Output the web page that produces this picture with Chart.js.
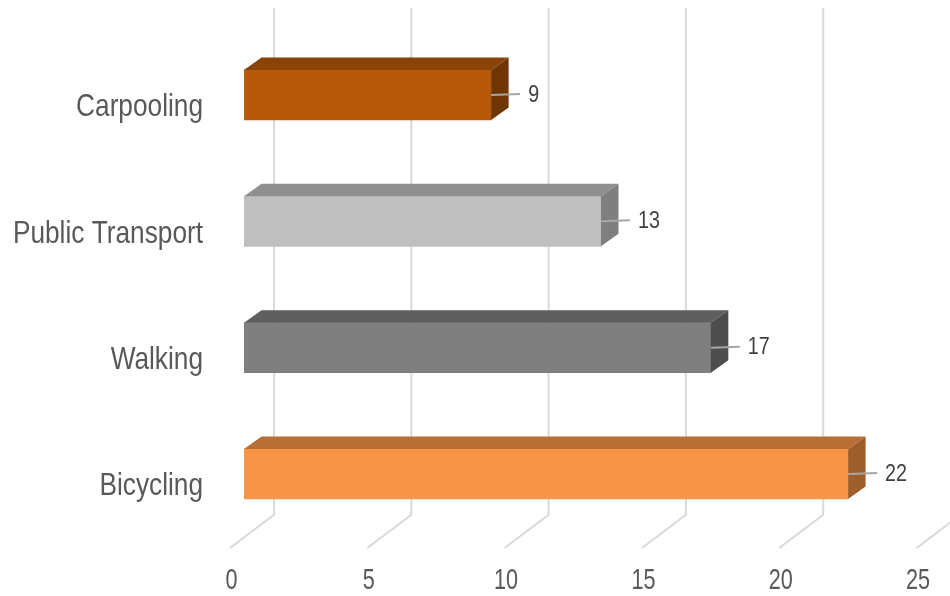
<!DOCTYPE html>
<html><head><meta charset="utf-8">
<script src="https://cdn.jsdelivr.net/npm/chart.js@4/dist/chart.umd.min.js"></script>
<style>html,body{margin:0;padding:0;background:#fff}#wrap{width:950px;height:596px;position:relative}</style>
</head><body><div id="wrap"><canvas id="c" width="950" height="596"></canvas></div>
<script>
const categories = ['Carpooling', 'Public Transport', 'Walking', 'Bicycling'];
const values = [9, 13, 17, 22];
const xTickValues = [0, 5, 10, 15, 20, 25];
const xTickLabels = ['0', '5', '10', '15', '20', '25'];

const frontColors = ['#B7590A', '#BFBFBF', '#7F7F7F', '#F79646'];
const topColors = ['#8A4306', '#8F8F8F', '#5F5F5F', '#B86F35'];
const sideColors = ['#703705', '#7F7F7F', '#4D4D4D', '#9E5F2C'];

const FONT = "'Liberation Sans', Arial, sans-serif";
const BAR_DX = 17.5, BAR_DY = 12.5;
const WALL_DX = 30, WALL_DY = 22.5;
const FLOOR_DX = -14, FLOOR_DY = 10.8;

function narrowText(ctx, text, x, y, size, squeeze, align, color) {
  ctx.save();
  ctx.translate(x, y);
  ctx.scale(squeeze, 1);
  ctx.font = size + 'px ' + FONT;
  ctx.textAlign = align;
  ctx.textBaseline = 'middle';
  ctx.fillStyle = color;
  ctx.fillText(text, 0, 0);
  ctx.restore();
}

const threeD = {
  id: 'threeD',
  beforeDatasetsDraw(chart) {
    const ctx = chart.ctx, xs = chart.scales.x, ys = chart.scales.y, area = chart.chartArea;
    ctx.save();
    ctx.strokeStyle = '#D9D9D9';
    ctx.lineWidth = 2;
    xTickValues.forEach(v => {
      const px = xs.getPixelForValue(v);
      ctx.beginPath();
      ctx.moveTo(px + WALL_DX, 8);
      ctx.lineTo(px + WALL_DX, area.bottom - WALL_DY);
      ctx.lineTo(px + FLOOR_DX, area.bottom + FLOOR_DY);
      ctx.stroke();
    });
    ctx.restore();
    xTickValues.forEach((v, i) => {
      narrowText(ctx, xTickLabels[i], xs.getPixelForValue(v) - 12.5, area.bottom + 44, 30, 0.72, 'center', '#595959');
    });
    categories.forEach((c, i) => {
      narrowText(ctx, c, ys.left + ys.width - 41, ys.getPixelForValue(i) + 12.5, 32, 0.82, 'right', '#595959');
    });
  },
  afterDatasetsDraw(chart) {
    const ctx = chart.ctx;
    const meta = chart.getDatasetMeta(0);
    ctx.save();
    meta.data.forEach((bar, i) => {
      const p = bar.getProps(['x', 'y', 'base', 'height'], true);
      const top = p.y - p.height / 2, bot = p.y + p.height / 2;
      ctx.fillStyle = topColors[i];
      ctx.beginPath();
      ctx.moveTo(p.base, top);
      ctx.lineTo(p.x, top);
      ctx.lineTo(p.x + BAR_DX, top - BAR_DY);
      ctx.lineTo(p.base + BAR_DX, top - BAR_DY);
      ctx.closePath();
      ctx.fill();
      ctx.fillStyle = sideColors[i];
      ctx.beginPath();
      ctx.moveTo(p.x, top);
      ctx.lineTo(p.x + BAR_DX, top - BAR_DY);
      ctx.lineTo(p.x + BAR_DX, bot - BAR_DY);
      ctx.lineTo(p.x, bot);
      ctx.closePath();
      ctx.fill();
      ctx.strokeStyle = '#A6A6A6';
      ctx.lineWidth = 2;
      ctx.beginPath();
      ctx.moveTo(p.x, p.y);
      ctx.lineTo(p.x + 29, p.y - 1);
      ctx.stroke();
    });
    ctx.restore();
    meta.data.forEach((bar, i) => {
      narrowText(ctx, String(values[i]), bar.x + 37, bar.y, 24, 0.82, 'left', '#404040');
    });
  }
};

new Chart(document.getElementById('c'), {
  type: 'bar',
  data: {
    labels: categories,
    datasets: [{
      data: values,
      backgroundColor: frontColors,
      borderWidth: 0,
      barThickness: 50
    }]
  },
  options: {
    indexAxis: 'y',
    responsive: false,
    animation: false,
    devicePixelRatio: 1,
    layout: { padding: { top: 31.8, right: 19.5, left: 0, bottom: 0 } },
    plugins: { legend: { display: false }, tooltip: { enabled: false } },
    scales: {
      x: {
        min: 0, max: 25,
        afterBuildTicks(scale) { scale.ticks = xTickValues.map(v => ({ value: v })); },
        afterFit(scale) { scale.height = 58.8; scale.paddingLeft = 0; scale.paddingRight = 0; },
        grid: { display: false, drawTicks: false },
        border: { display: false },
        ticks: { display: false }
      },
      y: {
        afterFit(scale) { scale.width = 244; scale.paddingTop = 0; scale.paddingBottom = 0; },
        grid: { display: false, drawTicks: false },
        border: { display: false },
        ticks: { display: false }
      }
    }
  },
  plugins: [threeD]
});
</script>
</body></html>
